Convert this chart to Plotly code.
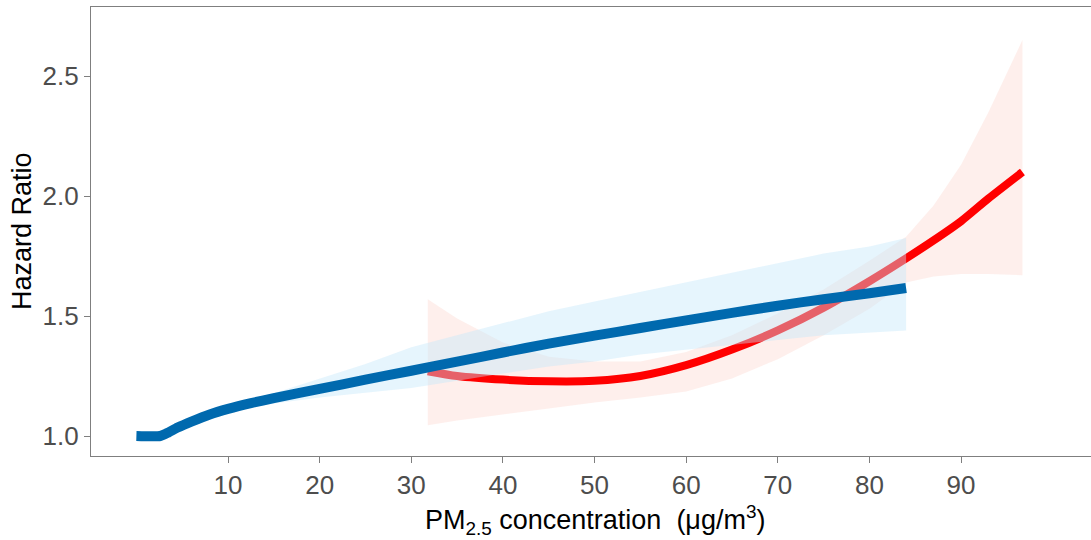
import plotly.graph_objects as go

# Blue curve and its CI band
blue_x = [0, 2.6, 3.5, 4.5, 6, 8, 10, 12.5, 15, 20, 25, 30, 35, 40, 45, 50, 55, 60, 65, 70, 75, 80, 84]
blue_y = [1.0, 1.0, 1.015, 1.035, 1.06, 1.09, 1.113, 1.137, 1.158, 1.196, 1.235, 1.272, 1.31, 1.348, 1.385, 1.418, 1.45, 1.482, 1.513, 1.543, 1.57, 1.595, 1.617]
blue_lo = [1.0, 1.0, 1.012, 1.03, 1.053, 1.08, 1.10, 1.12, 1.135, 1.16, 1.18, 1.20, 1.23, 1.26, 1.29, 1.31, 1.34, 1.36, 1.38, 1.40, 1.42, 1.43, 1.44]
blue_hi = [1.0, 1.0, 1.018, 1.04, 1.067, 1.10, 1.125, 1.155, 1.178, 1.24, 1.30, 1.37, 1.42, 1.47, 1.52, 1.56, 1.60, 1.64, 1.68, 1.72, 1.76, 1.79, 1.825]

# Red curve and its CI band
red_x = [31.8, 35, 40, 45, 50, 55, 60, 65, 70, 75, 80, 84, 87, 90, 93, 96.7]
red_y = [1.27, 1.25, 1.235, 1.228, 1.23, 1.25, 1.295, 1.36, 1.44, 1.535, 1.645, 1.74, 1.815, 1.895, 1.99, 2.10]
red_lo = [1.045, 1.065, 1.09, 1.115, 1.14, 1.16, 1.185, 1.24, 1.32, 1.42, 1.53, 1.64, 1.665, 1.675, 1.675, 1.67]
red_hi = [1.57, 1.49, 1.39, 1.33, 1.31, 1.31, 1.35, 1.42, 1.51, 1.61, 1.73, 1.83, 1.96, 2.13, 2.35, 2.65]

x_ticks = [10, 20, 30, 40, 50, 60, 70, 80, 90]
y_ticks = [1.0, 1.5, 2.0, 2.5]

fig = go.Figure()

fig.add_trace(go.Scatter(
    x=red_x + red_x[::-1], y=red_hi + red_lo[::-1], fill="toself",
    fillcolor="rgba(250,190,180,0.25)", line=dict(width=0), mode="lines",
    hoverinfo="skip", showlegend=False))
fig.add_trace(go.Scatter(
    x=red_x, y=red_y, mode="lines", line=dict(color="#FF0000", width=8, shape="spline", smoothing=0.7),
    showlegend=False))
fig.add_trace(go.Scatter(
    x=blue_x + blue_x[::-1], y=blue_hi + blue_lo[::-1], fill="toself",
    fillcolor="rgba(195,232,251,0.42)", line=dict(width=0), mode="lines",
    hoverinfo="skip", showlegend=False))
fig.add_trace(go.Scatter(
    x=blue_x, y=blue_y, mode="lines", line=dict(color="#0069AE", width=10, shape="spline", smoothing=0.5),
    showlegend=False))

W, H = 1091, 540
L, R, T, B = 91, 0, 7, 84
pw = W - L - R
ph = H - T - B

FONT = "Liberation Sans, Arial, sans-serif"

fig.update_layout(
    width=W, height=H,
    margin=dict(l=L, r=R, t=T, b=B, pad=0),
    plot_bgcolor="white", paper_bgcolor="white",
    font=dict(family=FONT, size=26, color="#4d4d4d"),
    xaxis=dict(
        range=[-4.955, 104.18], tickvals=x_ticks, ticktext=[str(v) for v in x_ticks],
        showgrid=False, zeroline=False, showline=True, linecolor="#7f7f7f", linewidth=1.3,
        mirror=True, ticks="outside", ticklen=6, tickcolor="#7f7f7f", tickwidth=1.3,
        tickfont=dict(size=26, color="#4d4d4d", family=FONT)),
    yaxis=dict(
        range=[0.9167, 2.7875], tickvals=y_ticks, ticktext=[f"{v:.1f}" for v in y_ticks],
        showgrid=False, zeroline=False, showline=True, linecolor="#7f7f7f", linewidth=1.3,
        mirror=False, ticks="outside", ticklen=6, tickcolor="#7f7f7f", tickwidth=1.3,
        tickfont=dict(size=26, color="#4d4d4d", family=FONT)),
    annotations=[
        dict(text="Hazard Ratio", textangle=-90, xref="paper", yref="paper",
             x=(22 - L) / pw, y=(456 - 231) / ph, xanchor="center", yanchor="middle",
             showarrow=False, font=dict(size=27, color="black", family=FONT)),
        dict(text="PM<sub>2.5</sub> concentration  (μg/m<sup>3</sup>)", xref="paper", yref="paper",
             x=(595 - L) / pw, y=(456 - 520) / ph, xanchor="center", yanchor="middle",
             showarrow=False, font=dict(size=27, color="black", family=FONT)),
    ],
)

fig.write_html("out.html", config={"displayModeBar": False},
               post_script="document.body.style.margin='0px';document.body.style.padding='0px';")
